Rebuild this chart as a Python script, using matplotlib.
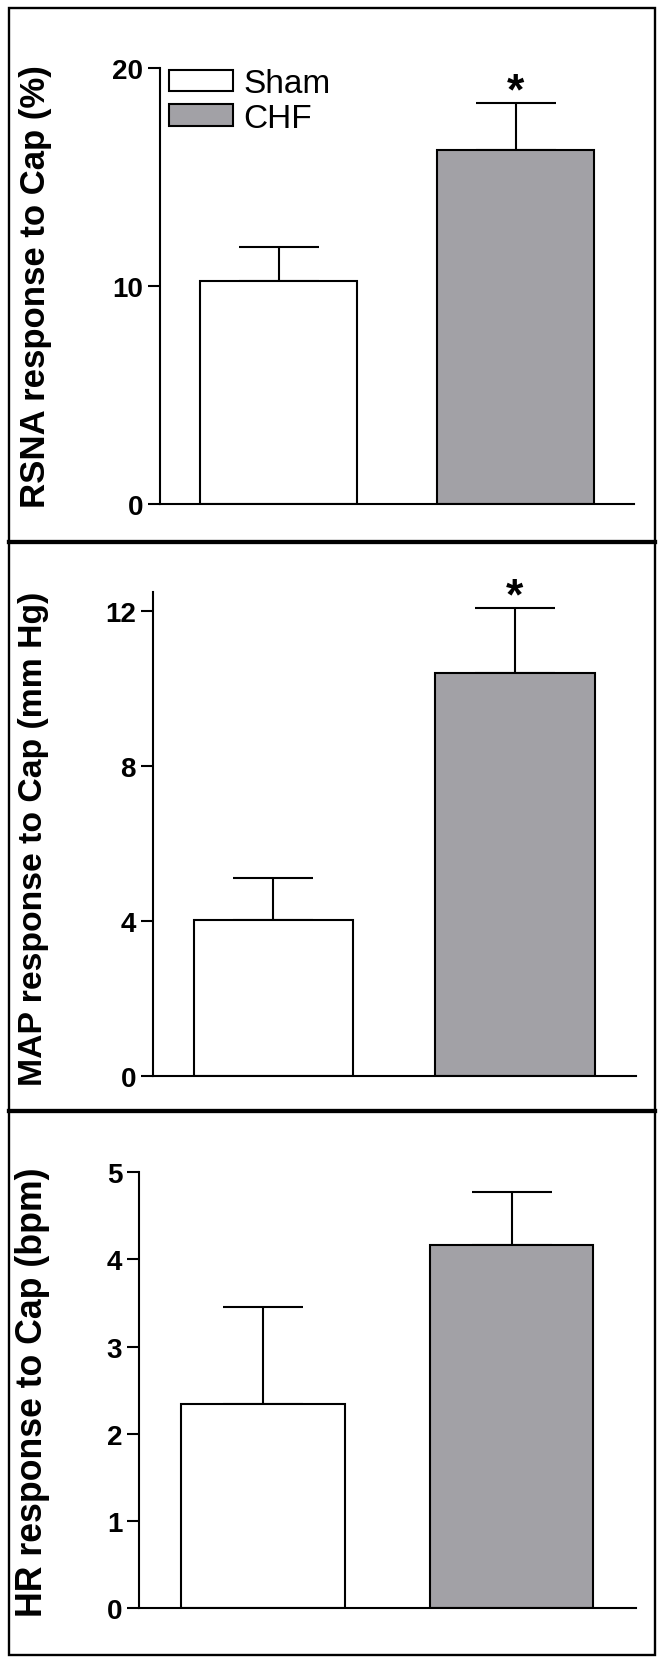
import matplotlib.pyplot as plt
from matplotlib.patches import Rectangle
from matplotlib.lines import Line2D

plt.rcParams['font.family'] = ['Liberation Sans', 'DejaVu Sans']

groups = ['Sham', 'CHF']
colors = ['white', '#a2a1a6']

rsna_mean = [10.25, 16.27]
rsna_sem = [1.55, 2.13]
map_mean = [4.02, 10.41]
map_sem = [1.1, 1.67]
hr_mean = [2.34, 4.17]
hr_sem = [1.11, 0.6]

W, H = 664, 1665
fig = plt.figure(figsize=(W / 100, H / 100), dpi=100)


def px_rect(left, top, right, bottom):
    return [left / W, (H - bottom) / H, (right - left) / W, (bottom - top) / H]


def draw_panel(rect, means, sems, ylim, yticks, ylabel, label_xy, label_size, stars):
    ax = fig.add_axes(rect)
    x = [0, 1]
    ax.bar(x, means, width=0.66, color=colors, edgecolor='black', linewidth=1.5, zorder=2)
    # capsize is half the cap length in matplotlib
    ax.errorbar(x, means, yerr=[[0, 0], sems], fmt='none', ecolor='black',
                elinewidth=1.5, capsize=28.8, capthick=1.5, zorder=1)
    for i, s in enumerate(stars):
        if s:
            ax.annotate('*', (x[i], means[i] + sems[i]), xytext=(0, -7),
                        textcoords='offset points', ha='center', va='bottom',
                        fontsize=32, fontweight='bold')
    ax.set_xlim(-0.5, 1.5)
    ax.set_ylim(*ylim)
    ax.set_yticks(yticks)
    ax.set_xticks([])
    for side in ['top', 'right']:
        ax.spines[side].set_visible(False)
    for side in ['left', 'bottom']:
        ax.spines[side].set_linewidth(1.5)
    ax.tick_params(axis='y', direction='out', length=8.5, width=1.5, pad=3.5,
                   labelsize=20)
    for lab in ax.get_yticklabels():
        lab.set_fontweight('bold')
    ax.set_ylabel(ylabel, fontsize=label_size, fontweight='bold')
    ax.yaxis.set_label_coords(label_xy[0] / W, 1 - label_xy[1] / H, transform=fig.transFigure)
    return ax


ax1 = draw_panel(px_rect(160, 69.3, 634, 505), rsna_mean, rsna_sem, (0, 20), [0, 10, 20],
                 'RSNA response to Cap (%)', (52, 286.5), 25, [False, True])
ax2 = draw_panel(px_rect(152.7, 592.7, 635.7, 1077.3), map_mean, map_sem, (0, 12.5), [0, 4, 8, 12],
                 'MAP response to Cap (mm Hg)', (49, 838.5), 24.3, [False, True])
ax3 = draw_panel(px_rect(139, 1173.3, 635.7, 1609), hr_mean, hr_sem, (0, 5), [0, 1, 2, 3, 4, 5],
                 'HR response to Cap (bpm)', (50, 1392), 25.7, [False, False])

handles = [Rectangle((0, 0), 1, 1, facecolor=c, edgecolor='black', linewidth=1.5) for c in colors]
ax1.legend(handles, groups, loc='upper left', bbox_to_anchor=(0.02, 1.0), frameon=False,
           fontsize=24, handlelength=1.9, handleheight=0.62, handletextpad=0.32,
           labelspacing=0.1, borderpad=0, borderaxespad=0)

# panel frames
fig.add_artist(Rectangle((9 / W, 1 - 1656 / H), (655 - 9) / W, (1656 - 9) / H,
                         transform=fig.transFigure, fill=False, edgecolor='black', linewidth=1.7))
for yy in [542.7, 1112.3]:
    fig.add_artist(Line2D([9 / W, 655 / W], [1 - yy / H, 1 - yy / H],
                          transform=fig.transFigure, color='black', linewidth=3.1))

plt.savefig('out.png', dpi=100)
